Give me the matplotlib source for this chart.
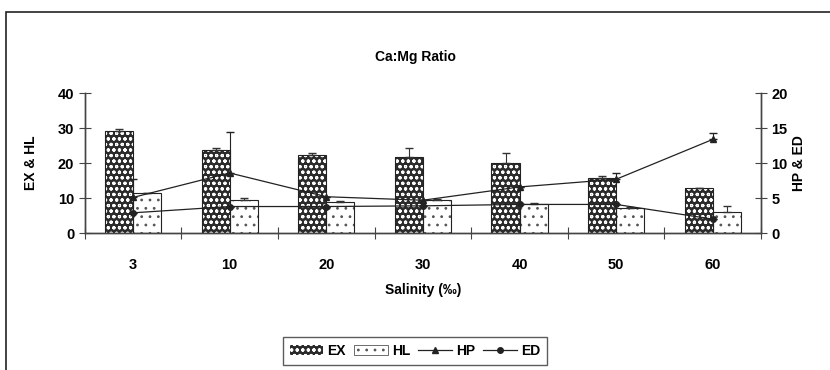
import numpy as np
import matplotlib.pyplot as plt
from matplotlib.patches import Rectangle, Patch
from matplotlib.lines import Line2D

plt.rcParams['font.family'] = ['Liberation Sans', 'DejaVu Sans']
plt.rcParams['font.weight'] = 'bold'
plt.rcParams['hatch.linewidth'] = 0.8

salinity = ['3', '10', '20', '30', '40', '50', '60']
ex = [29.2, 23.8, 22.4, 21.8, 20.0, 15.8, 12.8]
ex_err = [0.5, 0.6, 0.4, 2.5, 3.0, 0.5, 0.0]
hl = [11.4, 9.6, 8.9, 9.4, 8.2, 7.1, 6.0]
hl_err = [0.0, 0.4, 0.4, 0.3, 0.3, 0.3, 1.7]
hp = [5.1, 8.6, 5.2, 4.7, 6.6, 7.7, 13.4]
hp_err = [2.6, 5.8, 0.0, 0.0, 0.0, 0.9, 0.9]
ed = [2.9, 3.8, 3.8, 3.9, 4.1, 4.1, 2.0]
ed_err = [0.0, 0.0, 0.0, 0.0, 0.0, 0.0, 0.0]

x = np.arange(len(salinity))
w = 0.29

fig = plt.figure(figsize=(8.3, 3.7), dpi=100)
ax = fig.add_axes([0.102, 0.370, 0.815, 0.378])
ax2 = ax.twinx()

# EX bars: dark with white circles, then black outline
ax.bar(x - w / 2, ex, w, color='#2b2b2b', edgecolor='white', hatch='ooo', linewidth=0, zorder=2)
ax.bar(x - w / 2, ex, w, fill=False, edgecolor='#222222', linewidth=0.8, zorder=3)
# HL bars: white with sparse dots
ax.bar(x + w / 2, hl, w, color='white', edgecolor='#555555', hatch='..', linewidth=0, zorder=2)
ax.bar(x + w / 2, hl, w, fill=False, edgecolor='#222222', linewidth=0.8, zorder=3)

ax.errorbar(x - w / 2, ex, yerr=[np.zeros(len(ex)), ex_err], fmt='none',
            ecolor='#333333', elinewidth=0.8, capsize=3, zorder=4)
ax.errorbar(x + w / 2, hl, yerr=[np.zeros(len(hl)), hl_err], fmt='none',
            ecolor='#333333', elinewidth=0.8, capsize=3, zorder=4)

ax2.errorbar(x, hp, yerr=[np.zeros(len(hp)), hp_err], color='#222222', marker='^',
             markersize=5, linewidth=0.9, elinewidth=0.8, capsize=3, zorder=5)
ax2.errorbar(x, ed, yerr=[np.zeros(len(ed)), ed_err], color='#222222', marker='o',
             markersize=4, linewidth=0.9, elinewidth=0.8, capsize=3, zorder=5)

ax.set_zorder(1)
ax2.set_zorder(2)
ax2.patch.set_visible(False)

ax.set_xlim(-0.5, len(x) - 0.5)
ax.set_ylim(0, 40)
ax2.set_ylim(0, 20)
ax.set_yticks([0, 10, 20, 30, 40])
ax2.set_yticks([0, 5, 10, 15, 20])

ax.set_xticks(np.arange(-0.5, len(x), 1.0))
ax.set_xticklabels([])
ax.set_xticks(x, minor=True)
ax.set_xticklabels(salinity, minor=True)
ax.tick_params(axis='x', which='major', direction='inout', length=8, color='#444444')
ax.tick_params(axis='x', which='minor', length=0, pad=18, labelsize=10.5)
ax.tick_params(axis='y', direction='inout', length=8, color='#444444', labelsize=10.5)
ax2.tick_params(axis='y', direction='inout', length=8, color='#444444', labelsize=10.5)

for a in (ax, ax2):
    a.spines['top'].set_visible(False)
    for s in ('left', 'right', 'bottom'):
        a.spines[s].set_color('#444444')
        a.spines[s].set_linewidth(1.0)

ax.set_ylabel('EX & HL', fontsize=10, fontweight='bold', labelpad=14)
ax2.set_ylabel('HP & ED', fontsize=10, fontweight='bold', labelpad=3)
ax.set_xlabel('Salinity (‰)', fontsize=10, fontweight='bold', labelpad=8)
fig.text(0.5, 0.845, 'Ca:Mg Ratio', ha='center', va='center', fontsize=10, fontweight='bold')

handles = [
    Patch(facecolor='#2b2b2b', edgecolor='white', hatch='ooo', linewidth=0),
    Patch(facecolor='white', edgecolor='#555555', hatch='..', linewidth=0.6),
    Line2D([], [], color='#222222', marker='^', markersize=5, linewidth=0.9),
    Line2D([], [], color='#222222', marker='o', markersize=4, linewidth=0.9),
]
leg = fig.legend(handles, ['EX', 'HL', 'HP', 'ED'], loc='center', bbox_to_anchor=(0.5, 0.052),
                 ncol=4, frameon=True, fancybox=False, edgecolor='#333333', fontsize=10,
                 handlelength=2.4, handletextpad=0.3, columnspacing=0.6, borderpad=0.5)
leg.get_frame().set_linewidth(1.0)

# outer chart frame (only left and top edges visible in the crop)
fig.add_artist(Rectangle((6 / 830, -0.1), 1.0, (370 - 12) / 370 + 0.1, transform=fig.transFigure,
                         fill=False, edgecolor='#222222', linewidth=1.2))

fig.savefig('out.png', dpi=100)
